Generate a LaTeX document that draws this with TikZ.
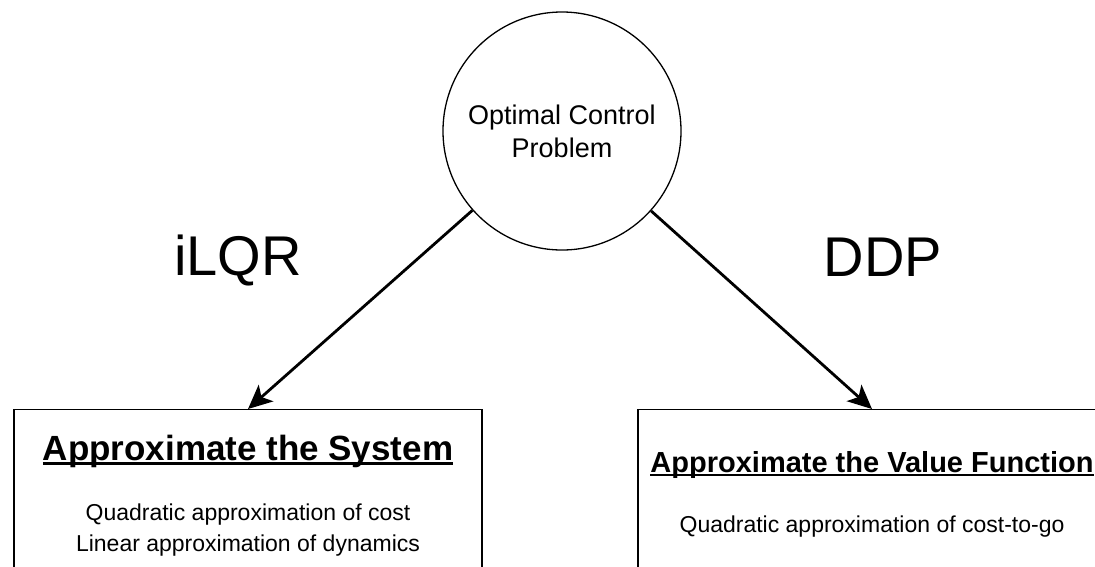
\documentclass[tikz,border=0pt]{standalone}
\usepackage{fontspec}
\setmainfont{Liberation Sans}
\usepackage{tikz}
\usetikzlibrary{shapes}
\usetikzlibrary{positioning}
\usetikzlibrary{arrows.meta}
\newcommand{\ulnd}[1]{\setbox0=\hbox{#1}\rlap{\rule[-0.14em]{\wd0}{0.07em}}\box0}

\begin{document}
\begin{tikzpicture}[
	x=1pt, y=-1pt,
	arrow/.style={line width=2.8pt, -{Stealth[length=24pt,width=22pt,inset=6pt]}},
	title/.style={font=\fontsize{#1}{#1}\selectfont\bfseries, anchor=base},
	body/.style={font=\fontsize{23}{31}\selectfont, anchor=base}]
	\tikzstyle{every node}=[inner sep=0pt, align=center]
	\tikzstyle{box}=[draw, line width=1.3pt, rectangle, minimum width=468pt, minimum height=220pt, anchor=north]
	\useasboundingbox (0,0) rectangle (1095,566);
	\clip (0,0) rectangle (1095,566);

	\node[draw, circle, line width=1.3pt, minimum size=238pt,
		font=\fontsize{27}{33}\selectfont] (ocp) at (562,131) {Optimal Control\\Problem};

	\node[box] (sys) at (248,409) {};
	\node[box] (val) at (872,409) {};

	% base anchor sits on the last line
	\node[title=35] (systitle) at ([yshift=-51pt]sys.north) {\ulnd{Approximate the System}};
	\node[body] (sysbody) at ([yshift=-142pt]sys.north) {Quadratic approximation of cost\\Linear approximation of dynamics};
	\node[title=29] (valtitle) at ([yshift=-63pt]val.north) {\ulnd{Approximate the Value Function}};
	\node[body] (valbody) at ([yshift=-123pt]val.north) {Quadratic approximation of cost-to-go};

	\node[font=\fontsize{56}{56}\selectfont, anchor=base] (ilqr) at (238,275) {iLQR};
	\node[font=\fontsize{56}{56}\selectfont, anchor=base] (ddp) at (883,276) {DDP};

	\draw[arrow] (ocp) -- (sys.north);
	\draw[arrow] (ocp) -- (val.north);
\end{tikzpicture}
\end{document}
